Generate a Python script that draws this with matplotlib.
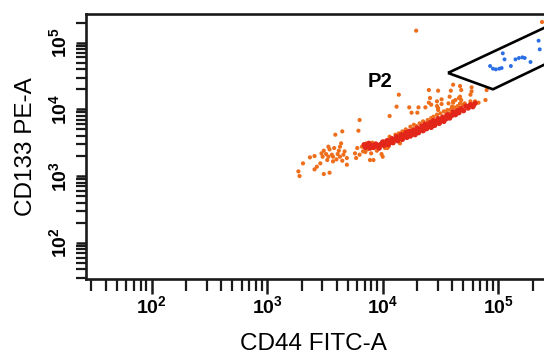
import matplotlib
matplotlib.use("Agg")
import matplotlib.pyplot as plt
import numpy as np
from matplotlib.patches import Polygon
from matplotlib.ticker import LogLocator, NullFormatter

plt.rcParams['font.family'] = ['Liberation Sans', 'DejaVu Sans']
plt.rcParams['mathtext.fontset'] = 'custom'
plt.rcParams['mathtext.rm'] = 'Liberation Sans'
plt.rcParams['mathtext.bf'] = 'Liberation Sans:bold'

# ---- data (log10 of fluorescence intensity) ----
# sparse events (orange)
cd44_log = [3.27,3.28,3.31,3.37,3.41,3.41,3.46,3.48,3.49,3.51,
            3.53,3.54,3.56,3.57,3.58,3.60,3.61,3.63,3.63,3.65,
            3.66,3.67,3.69,3.54,3.49,3.43,3.52,3.57,3.62,3.64,
            3.59,3.65,3.53,3.47,3.69,3.79,3.80,3.76,3.78,3.77,
            3.80,3.82,3.83,3.86,3.87,3.89,3.90,3.91,3.92,3.93,
            3.95,3.96,3.98,3.99,4.01,4.02,4.04,4.05,4.06,4.06,
            4.08,4.09,4.11,4.12,4.14,4.15,4.16,4.17,4.19,4.20,
            4.21,4.23,4.24,4.24,4.26,4.27,4.28,4.29,4.31,4.32,
            4.32,4.34,4.35,4.37,4.38,4.39,4.40,4.42,4.42,4.43,
            4.44,4.46,4.47,4.47,4.49,4.50,4.51,4.52,4.53,4.55,
            4.56,4.57,4.58,4.59,4.61,4.61,4.62,4.64,4.65,4.66,
            4.68,4.69,4.71,4.73,4.74,4.76,4.77,4.79,4.89,4.80,
            4.14,4.40,4.48,4.61,4.67,4.68,4.77,4.77,4.90,4.51,
            4.58,4.63,4.67,4.41,4.47,4.12,4.48,4.25,4.30,4.59,
            4.76,4.66,4.40,4.61,4.67,4.83,4.60,4.48,3.89,3.92,
            4.00,3.85,4.04,4.29,5.38]
cd133_log = [3.07,3.00,3.19,3.28,3.30,3.10,3.19,3.29,3.38,3.33,
             3.29,3.40,3.32,3.29,3.42,3.25,3.33,3.29,3.44,3.23,
             3.32,3.37,3.17,3.05,3.03,3.14,3.24,3.22,3.38,3.49,
             3.62,3.67,3.44,3.34,3.27,3.68,3.84,3.34,3.42,3.27,
             3.32,3.44,3.37,3.49,3.40,3.45,3.34,3.50,3.42,3.45,
             3.38,3.44,3.48,3.33,3.52,3.42,3.54,3.44,3.90,3.59,
             3.50,3.55,3.62,3.57,3.64,3.49,3.59,3.67,3.62,3.70,
             3.64,4.03,3.74,3.65,3.70,3.77,3.67,3.75,4.03,3.69,
             3.79,3.72,3.82,4.03,3.75,3.84,3.78,3.87,4.07,3.80,
             3.89,3.83,4.05,3.92,3.85,3.94,4.08,3.89,3.97,3.92,
             3.99,4.09,3.94,4.00,3.97,4.12,4.03,3.99,4.05,4.02,
             4.14,4.07,4.09,4.04,4.05,4.12,4.08,4.05,4.14,4.12,
             4.22,4.29,4.28,4.37,4.35,4.29,4.33,4.27,4.29,4.15,
             4.19,4.14,4.19,4.17,4.12,4.04,4.02,3.95,3.95,4.28,
             4.22,4.17,4.10,4.10,4.09,4.10,4.04,3.99,3.24,3.24,
             3.29,3.36,3.42,5.18,5.31]

# dense core of the population (red)
core_cd44_log = [3.84,3.85,3.87,3.88,3.89,3.91,3.92,3.94,3.95,3.97,
                 3.98,4.00,4.01,4.02,4.04,4.05,4.07,4.08,4.09,4.11,
                 4.12,4.13,4.15,4.16,4.17,4.19,4.20,4.21,4.22,4.23,
                 4.24,4.26,4.27,4.28,4.29,4.30,4.31,4.33,4.34,4.35,
                 4.36,4.37,4.38,4.40,4.41,4.42,4.43,4.44,4.45,4.47,
                 4.48,4.49,4.50,4.52,4.53,4.55,4.56,4.58,4.60,4.61,
                 4.63,4.65,4.66,4.68,4.70,4.72,4.74,4.76,4.78,4.80,
                 4.06,4.18,4.32,4.46,4.25,4.39]
core_cd133_log = [3.47,3.43,3.45,3.49,3.42,3.46,3.43,3.48,3.45,3.42,
                  3.47,3.51,3.46,3.49,3.53,3.47,3.52,3.56,3.50,3.55,
                  3.59,3.53,3.57,3.62,3.55,3.60,3.65,3.58,3.62,3.67,
                  3.60,3.64,3.69,3.62,3.67,3.72,3.65,3.70,3.75,3.68,
                  3.72,3.78,3.71,3.75,3.80,3.73,3.77,3.83,3.76,3.80,
                  3.86,3.79,3.83,3.88,3.82,3.86,3.92,3.87,3.91,3.96,
                  3.92,3.98,3.95,4.01,3.98,4.05,4.02,4.07,4.04,4.09,
                  3.50,3.58,3.69,3.81,3.66,3.76]

# events inside gate P2 (blue)
p2_cd44_log = [4.93,4.955,4.98,5.01,5.03,5.04,5.055,5.11,5.15,5.18,5.21,5.23,5.28,5.35,5.36]
p2_cd133_log = [4.65,4.61,4.60,4.61,4.62,4.84,4.75,4.65,4.75,4.77,4.78,4.77,4.71,5.03,4.90]

# gate P2 vertices
gate_cd44_log = [4.565, 4.955, 5.54, 5.54]
gate_cd133_log = [4.546, 4.301, 4.787, 5.337]

x_ticks = [1e2, 1e3, 1e4, 1e5]
x_ticklabels = [r'$\mathbf{10^{2}}$', r'$\mathbf{10^{3}}$', r'$\mathbf{10^{4}}$', r'$\mathbf{10^{5}}$']
y_ticks = [1e2, 1e3, 1e4, 1e5]
y_ticklabels = x_ticklabels

# ---- figure ----
fig = plt.figure(figsize=(5.44, 3.54), dpi=100)
ax = fig.add_axes([86/544, 75/354, 460.5/544, 265/354])
ax.set_xscale('log')
ax.set_yscale('log')
ax.set_xlim(10**1.431, 262144)
ax.set_ylim(10**1.456, 10**5.43)

ax.scatter(10**np.array(cd44_log), 10**np.array(cd133_log), s=9,
           c='#ee6e1c', edgecolors='none', zorder=2)
ax.scatter(10**np.array(core_cd44_log), 10**np.array(core_cd133_log), s=15,
           c='#e2261a', edgecolors='none', zorder=3)
ax.scatter(10**np.array(p2_cd44_log), 10**np.array(p2_cd133_log), s=8,
           c='#2a6ee6', edgecolors='none', zorder=3)

gate = Polygon(np.column_stack([10**np.array(gate_cd44_log), 10**np.array(gate_cd133_log)]),
               closed=True, fill=False, ec='black', lw=1.9, zorder=4)
ax.add_patch(gate)

ax.text(10**3.981, 10**4.336, 'P2', fontsize=14.5, fontweight='bold',
        ha='center', va='baseline', zorder=5)

for side in ['left', 'bottom', 'top']:
    ax.spines[side].set_linewidth(1.9)
    ax.spines[side].set_color('#1a1a1a')
ax.spines['right'].set_visible(False)

ax.xaxis.set_minor_locator(LogLocator(base=10, subs=np.arange(2, 10)))
ax.yaxis.set_minor_locator(LogLocator(base=10, subs=np.arange(2, 10)))
ax.xaxis.set_minor_formatter(NullFormatter())
ax.yaxis.set_minor_formatter(NullFormatter())
ax.set_xticks(x_ticks)
ax.set_xticklabels(x_ticklabels)
ax.set_yticks(y_ticks)
ax.set_yticklabels(y_ticklabels)

ax.tick_params(axis='x', which='major', direction='out', length=11, width=1.8,
               labelsize=14, pad=1, color='#1a1a1a')
ax.tick_params(axis='x', which='minor', direction='out', length=8.5, width=1.6,
               color='#1a1a1a')
ax.tick_params(axis='y', which='major', direction='out', length=7.5, width=1.8,
               labelsize=14, pad=4, color='#1a1a1a', labelrotation=90)
ax.tick_params(axis='y', which='minor', direction='out', length=7.5, width=1.6,
               color='#1a1a1a')
ax.tick_params(top=False, right=False, which='both')
for lab in ax.get_yticklabels():
    lab.set_va('center')

ax.set_xlabel('CD44 FITC-A', fontsize=17.5)
ax.xaxis.set_label_coords(0.493, -0.204)
ax.xaxis.label.set_va('top')
ax.set_ylabel('CD133 PE-A', fontsize=17.5)
ax.yaxis.label.set_va('center')
ax.yaxis.set_label_coords(-0.130, 0.498)

fig.savefig('out.png', dpi=100)
